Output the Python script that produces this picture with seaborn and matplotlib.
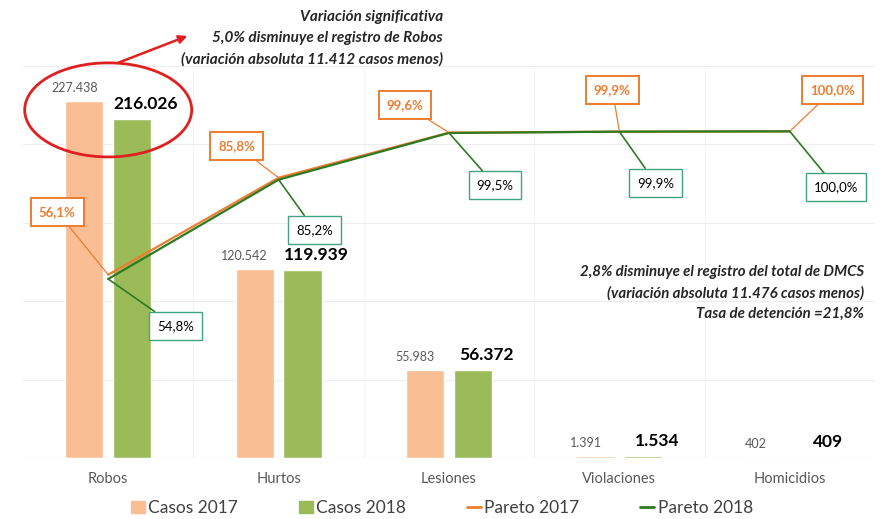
import matplotlib
matplotlib.use("Agg")
import pandas as pd
import numpy as np
import matplotlib.pyplot as plt
import seaborn as sns
from matplotlib.patches import Ellipse, Patch
from matplotlib.lines import Line2D

# data
delitos = ["Robos", "Hurtos", "Lesiones", "Violaciones", "Homicidios"]
casos_2017 = [227438, 120542, 55983, 1391, 402]
casos_2018 = [216026, 119939, 56372, 1534, 409]
pareto_2017 = [56.1, 85.8, 99.6, 99.9, 100.0]
pareto_2018 = [54.8, 85.2, 99.5, 99.9, 100.0]
lab_2017 = ["227.438", "120.542", "55.983", "1.391", "402"]
lab_2018 = ["216.026", "119.939", "56.372", "1.534", "409"]
plab_2017 = ["56,1%", "85,8%", "99,6%", "99,9%", "100,0%"]
plab_2018 = ["54,8%", "85,2%", "99,5%", "99,9%", "100,0%"]

c17 = "#F9BE93"
c18 = "#9BBB59"
l17 = "#ED7D31"
l18 = "#2E7A23"
box18 = "#3FA57E"

sns.set_style("white")
plt.rcParams["font.family"] = ["Lato", "DejaVu Sans"]

df = pd.DataFrame({
    "delito": delitos * 2,
    "casos": casos_2017 + casos_2018,
    "serie": ["Casos 2017"] * 5 + ["Casos 2018"] * 5,
})

fig = plt.figure(figsize=(8.84, 5.19), dpi=100)
ax = fig.add_axes([23 / 884, 1 - 458 / 519, 852 / 884, 392 / 519])

sns.barplot(data=df, x="delito", y="casos", hue="serie",
            palette=[c17, c18], width=0.56, gap=0.2, ax=ax,
            legend=False, saturation=1)

ax.set_ylim(0, 250000)
ax.set_xlim(-0.5, 4.5)
ax.set_yticks(np.arange(0, 250001, 50000))
ax.set_yticklabels([])
ax.tick_params(axis="y", length=0)
ax.tick_params(axis="x", length=0, labelsize=10.5, labelcolor="#595959", pad=10)
ax.set_xlabel("")
ax.set_ylabel("")
ax.grid(axis="y", color="#EDEDED", lw=0.8)
for xv in np.arange(0.5, 4.5, 1):
    ax.axvline(xv, color="#F4F4F4", lw=0.8, zorder=0)
ax.set_axisbelow(True)
for s in ax.spines.values():
    s.set_visible(False)
ax.axhline(0, color="#D9D9D9", lw=0.8)

# bar value labels (shifted apart like the original)
for i in range(5):
    ax.annotate(lab_2017[i], xy=(i - 0.14, casos_2017[i]), xytext=(-10, 7),
                textcoords="offset pixels", ha="center", va="bottom",
                fontsize=9, color="#595959")
    ax.annotate(lab_2018[i], xy=(i + 0.14, casos_2018[i]), xytext=(14, 7),
                textcoords="offset pixels", ha="center", va="bottom",
                fontsize=12.5, fontweight="bold", color="black")

# pareto lines on secondary axis
ax2 = ax.twinx()
pdf = pd.DataFrame({
    "x": list(range(5)) * 2,
    "pareto": pareto_2017 + pareto_2018,
    "serie": ["Pareto 2017"] * 5 + ["Pareto 2018"] * 5,
})
sns.lineplot(data=pdf, x="x", y="pareto", hue="serie", palette=[l17, l18],
             ax=ax2, legend=False, lw=1.6)
ax2.set_ylim(0, 120)
ax2.set_xlim(-0.5, 4.5)
ax2.set_yticks([])
ax2.set_ylabel("")
ax2.set_xlabel("")
for s in ax2.spines.values():
    s.set_visible(False)

# label offsets in pixels (box center relative to point)
off17 = [(-51, 63), (-42, 32), (-44, 28), (-7, 42), (43, 41)]
off18 = [(67, -47), (36, -50), (46, -52), (36, -51), (46, -56)]
for i in range(5):
    ax2.annotate(plab_2017[i], xy=(i, pareto_2017[i]), xytext=off17[i],
                 textcoords="offset pixels", ha="center", va="center",
                 fontsize=9.5, fontweight="bold", color=l17,
                 bbox=dict(boxstyle="square,pad=0.6", fc="white", ec=l17, lw=1.4),
                 arrowprops=dict(arrowstyle="-", color=l17, lw=0.9,
                                 shrinkA=0, shrinkB=0))
    ax2.annotate(plab_2018[i], xy=(i, pareto_2018[i]), xytext=off18[i],
                 textcoords="offset pixels", ha="center", va="center",
                 fontsize=9.5, color="black",
                 bbox=dict(boxstyle="square,pad=0.6", fc="white", ec=box18, lw=1.0),
                 arrowprops=dict(arrowstyle="-", color=l18, lw=1.2,
                                 shrinkA=0, shrinkB=0))

# red ellipse and arrow around Robos
ell = Ellipse((0.0, 222000), width=0.98, height=60000, fill=False,
              ec="#E02020", lw=2.0, clip_on=False)
ax.add_patch(ell)
ax.annotate("", xy=(190 / 884, 1 - 35 / 519), xycoords="figure fraction",
            xytext=(115 / 884, 1 - 64 / 519), textcoords="figure fraction",
            arrowprops=dict(arrowstyle="-|>", color="#E02020", lw=1.8,
                            mutation_scale=12))

note_kw = dict(ha="right", va="center", fontweight="bold", fontstyle="italic",
               color="#262626")
fig.text(443 / 884, 1 - 17 / 519, "Variación significativa", fontsize=11, **note_kw)
fig.text(443 / 884, 1 - 38 / 519, "5,0% disminuye el registro de Robos",
         fontsize=11, **note_kw)
fig.text(443 / 884, 1 - 59 / 519, "(variación absoluta 11.412 casos menos)",
         fontsize=11, **note_kw)

fig.text(864 / 884, 1 - 272 / 519, "2,8% disminuye el registro del total de DMCS",
         fontsize=10.8, **note_kw)
fig.text(864 / 884, 1 - 293 / 519, "(variación absoluta 11.476 casos menos)",
         fontsize=10.8, **note_kw)
fig.text(864 / 884, 1 - 314 / 519, "Tasa de detención =21,8%",
         fontsize=10.8, **note_kw)

handles = [Patch(color=c17, label="Casos 2017"),
           Patch(color=c18, label="Casos 2018"),
           Line2D([0], [0], color=l17, lw=2, label="Pareto 2017"),
           Line2D([0], [0], color=l18, lw=2, label="Pareto 2018")]
fig.legend(handles=handles, loc="center", bbox_to_anchor=(0.5, 1 - 508 / 519),
           ncol=4, frameon=False, fontsize=12.5, handlelength=0.8,
           handletextpad=0.2, columnspacing=3.5, labelcolor="#404040")

fig.savefig("out.png", dpi=100)
